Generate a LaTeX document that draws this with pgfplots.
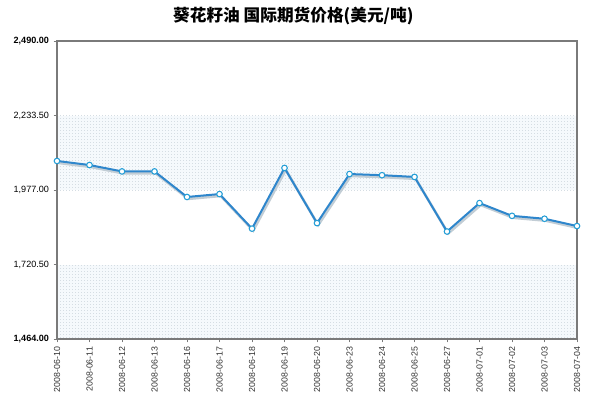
\documentclass[border=0pt]{standalone}
\usepackage{pgfplots}
\pgfplotsset{compat=1.18}
\usepackage{fontspec}
\setmainfont{Liberation Sans}
\newfontfamily\cjk{Noto Sans CJK SC}
\usetikzlibrary{patterns.meta}
\pgfdeclarepattern{name=mydots, type=uncolored,
  bottom left={\pgfpoint{0pt}{0pt}}, top right={\pgfpoint{2.25pt}{2.25pt}},
  tile size={\pgfpoint{2.25pt}{2.25pt}},
  code={\pgfpathrectangle{\pgfpoint{0pt}{0pt}}{\pgfpoint{0.75pt}{0.75pt}}\pgfusepath{fill}}}
\definecolor{linec}{HTML}{2E86CC}
\definecolor{bandc}{HTML}{F5F9FC}
\definecolor{dotc}{HTML}{D5DDE3}
\definecolor{framec}{HTML}{7A7A7A}
\pgfplotstableread{
idx price
0 2077
1 2063
2 2041
3 2041
4 1953
5 1963
6 1844
7 2053
8 1863
9 2032
10 2028
11 2022
12 1834
13 1932
14 1888
15 1878
16 1853
}\pricedata
\begin{document}
\begin{tikzpicture}
\useasboundingbox (0,0) rectangle (453.75pt,300pt);
\node[font=\cjk\bfseries\fontsize{12.5}{14}\selectfont, anchor=center] at (220pt,288pt) {葵花籽油\ 国际期货价格(美元/吨)};
\begin{axis}[
  at={(42.75pt,45.75pt)}, anchor=south west,
  scale only axis, width=390pt, height=223.5pt,
  xmin=0, xmax=16, ymin=1464, ymax=2490,
  axis line style={framec, line width=1.3pt},
  xtick={0,...,16},
  xticklabels={2008-06-10,2008-06-11,2008-06-12,2008-06-13,2008-06-16,2008-06-17,2008-06-18,2008-06-19,2008-06-20,2008-06-23,2008-06-24,2008-06-25,2008-06-27,2008-07-01,2008-07-02,2008-07-03,2008-07-04},
  xticklabel style={rotate=90, anchor=east, font=\fontsize{6.6}{8}\selectfont, text=black!80},
  ytick={1464,1720.5,1977,2233.5,2490},
  yticklabels={{\textbf{1,464.00}},{1,720.50},{1,977.00},{2,233.50},{\textbf{2,490.00}}},
  yticklabel style={font=\fontsize{6.8}{8}\selectfont, text=black},
  tick align=outside, major tick length=2.5pt,
  tick style={framec, line width=0.5pt},
  xtick pos=bottom, ytick pos=left,
  clip=false,
  axis on top,
]
\fill[bandc] (axis cs:0,1977) rectangle (axis cs:16,2233.5);
\fill[bandc] (axis cs:0,1464) rectangle (axis cs:16,1720.5);
\fill[pattern=mydots, pattern color=dotc] (axis cs:0,1977) rectangle (axis cs:16,2233.5);
\fill[pattern=mydots, pattern color=dotc] (axis cs:0,1464) rectangle (axis cs:16,1720.5);
\addplot[color=linec!30!gray!40, line width=2pt, no marks, transform canvas={xshift=0.9pt,yshift=-1.4pt}] table[x=idx,y=price] {\pricedata};
\addplot[color=linec, line width=1.5pt, mark=*, mark size=2.1pt,
  mark options={fill=white, draw=linec!80!cyan, line width=0.8pt}] table[x=idx,y=price] {\pricedata};
\end{axis}
\end{tikzpicture}
\end{document}
